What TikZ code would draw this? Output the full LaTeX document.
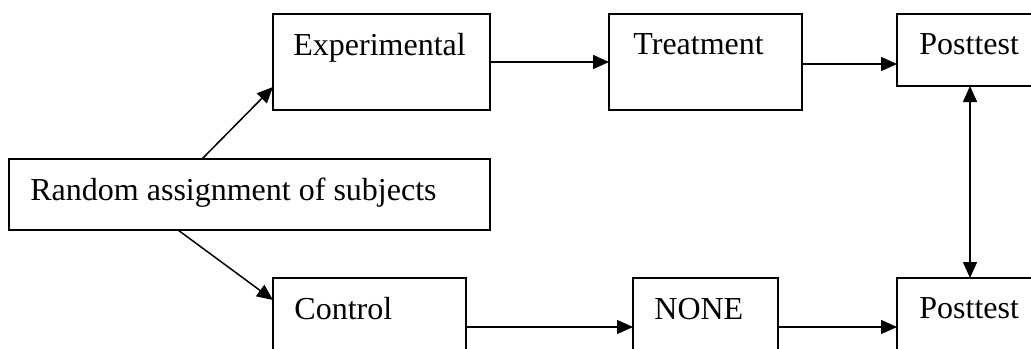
\documentclass[tikz,border=0pt]{standalone}
\usepackage{fontspec}
\setmainfont{Liberation Serif}
\usetikzlibrary{arrows.meta}
\begin{document}
\begin{tikzpicture}[x=0.5pt,y=-0.5pt,
  box/.style={draw, line width=1.1pt, rectangle, anchor=north west, inner sep=0pt, outer sep=0pt},
  lbl/.style={anchor=base west, inner sep=0pt, font=\fontsize{16}{19}\selectfont},
  tip/.style={Triangle[length=8pt,width=7pt]},
  arr/.style={line width=0.75pt, -{Triangle[length=8pt,width=7pt]}},
  darr/.style={line width=0.75pt, {Triangle[length=8pt,width=7pt]}-{Triangle[length=8pt,width=7pt]}}]
\useasboundingbox (0,0) rectangle (1031,348);
\clip (0,0) rectangle (1031,348);

% boxes
\node[box, minimum width=240.5pt, minimum height=35.5pt] (rand)  at (9,159)   {};
\node[box, minimum width=108.5pt, minimum height=48pt]   (exp)   at (273,14)  {};
\node[box, minimum width=96.5pt,  minimum height=48pt]   (treat) at (609,14)  {};
\node[box, minimum width=73pt,    minimum height=36pt]   (pt1)   at (897,14)  {};
\node[box, minimum width=96.5pt,  minimum height=49pt]   (ctrl)  at (273,278) {};
\node[box, minimum width=72.5pt,  minimum height=49pt]   (none)  at (633,278) {};
\node[box, minimum width=73pt,    minimum height=49pt]   (pt2)   at (897,278) {};

% labels
\node[lbl] (randt)  at (30,200)  {Random assignment of subjects};
\node[lbl] (expt)   at (293,55)  {Experimental};
\node[lbl] (treatt) at (633,54)  {Treatment};
\node[lbl] (pt1t)   at (919,54)  {Posttest};
\node[lbl] (ctrlt)  at (294,319) {Control};
\node[lbl] (nonet)  at (654,319) {NONE};
\node[lbl] (pt2t)   at (919,318) {Posttest};

% connectors
\draw[arr] ([xshift=-23.75pt]rand.north) -- ([yshift=11.5pt]exp.south west);
\draw[arr] ([xshift=-35.75pt]rand.south) -- ([yshift=-11pt]ctrl.north west);
\draw[arr] (exp.east) -- (treat.west);
\draw[arr] ([yshift=-1pt]treat.east) -- ([yshift=-1pt]treat.east -| pt1.west);
\draw[arr] (ctrl.east) -- (none.west);
\draw[arr] (none.east) -- (none.east -| pt2.west);
\draw[darr] (pt1.south) -- (pt2.north);
\end{tikzpicture}
\end{document}
